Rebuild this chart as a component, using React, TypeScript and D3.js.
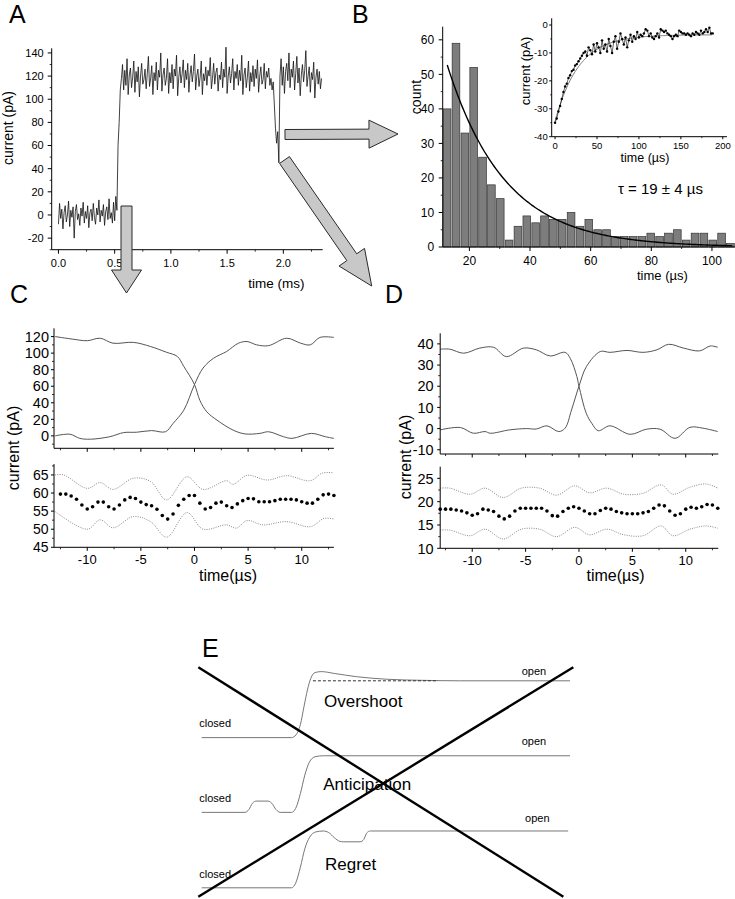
import React from "react";
import * as d3 from "d3";

const FONT = "Arial, 'Liberation Sans', Helvetica, sans-serif";

// ---------------- Panel A : single-channel current trace ----------------
const A_DT = 0.01; // ms per sample
const A_BASE = [-8, 10, -3, 5, -12, 2, 8, -6, 0, 12, -10, 4, -2, 7, -20, 3, 9, -4, 1, -9, 6, -1, 11, -7, 3, -3, 8, -11, 2, 5, -5, 10, -2, -8, 6, 0, 13, -6, 4, -1, 9, -9, 3, 7, -4, 14, -3, 2, -7, 11, -5, 16, 4];
const A_RISE = [60, 80, 108];
const A_OPEN1 = [118, 130, 108, 125, 112, 135, 104, 121, 127, 110, 119, 133, 106, 124, 115, 128, 102, 120, 131, 113, 117, 126, 109, 122, 137, 111, 118, 129, 104, 123, 116, 132, 108, 125, 119, 140, 107, 121, 127, 112, 118, 135, 105, 123, 114, 130, 109, 126, 120, 138, 103, 119, 128, 114, 122, 134, 110, 125, 117, 131, 106, 121, 129, 115, 124, 139, 108, 120, 126, 111, 119, 133, 104, 122, 116, 128, 112, 125, 120, 136, 109, 118, 131, 113, 123, 127, 107, 121, 117, 132, 110, 126, 119, 145, 105, 120, 128, 114, 122, 135, 108, 124, 118, 130, 112, 125, 116, 138, 104, 121, 127, 110, 119, 133, 107, 123, 115, 129, 111, 126, 118, 134, 106, 120, 128, 113, 117, 131, 109, 124, 119, 127, 112, 118, 108, 115];
const A_FALL = [95, 75, 62, 72, 45];
const A_OPEN2 = [120, 135, 112, 128, 105, 124, 131, 116, 140, 110, 126, 119, 133, 108, 122, 137, 114, 127, 103, 121, 130, 115, 125, 142, 111, 120, 128, 106, 123, 117, 132, 101, 119, 126, 113, 124, 109, 118];
const A_CURRENT = [...A_BASE, ...A_RISE, ...A_OPEN1, ...A_FALL, ...A_OPEN2];
const A_Y_TICKS = [-20, 0, 20, 40, 60, 80, 100, 120, 140];
const A_Y_MINOR = [-30, -10, 10, 30, 50, 70, 90, 110, 130];
const A_X_TICKS = [0, 0.5, 1, 1.5, 2];
const A_X_MINOR = [0.25, 0.75, 1.25, 1.75, 2.25];

// ---------------- Panel B : dwell-time histogram ----------------
const B_COUNTS = [40, 59, 33, 52, 26, 18, 14, 2, 6, 9, 7, 9, 8, 8, 10, 6, 8, 5, 5, 3, 3, 3, 3, 4, 3, 4, 5, 2, 4, 4, 2, 4, 1];
const B_BIN_START = 11.2;
const B_BIN_WIDTH = 2.92;
const B_FIT_AMP = 52.7;
const B_FIT_TAU = 19;
const B_FIT_T0 = 12.7;
const B_FIT_T1 = 107;
const B_Y_TICKS = [0, 10, 20, 30, 40, 50, 60];
const B_Y_MINOR = [5, 15, 25, 35, 45, 55];
const B_X_TICKS = [20, 40, 60, 80, 100];
const B_X_MINOR = [30, 50, 70, 90];

// inset: averaged relaxation
const B_INSET_DT = 2; // µs
const B_INSET_CURRENT = [-35, -33.5, -31, -29, -26.5, -24, -22, -21, -19, -18, -16.5, -16, -14.5, -14, -13, -12, -11, -10, -9.5, -11, -8, -9, -10.5, -7, -9.5, -6.5, -8, -10, -5.5, -8.5, -7, -9.5, -5, -7.5, -10, -6, -4, -8.5, -6, -3, -5, -7, -4.5, -8, -5.5, -3.5, -6, -4, -5, -2.5, -4.5, -3.5, -4, -3, -1.5, -2, -4, -3, -4.5, -5, -4, -3, -4.5, -1.5, -2, -2.5, -2, -3, -3.5, -4, -5, -4, -3.5, -4, -2, -2.5, -3, -3, -3.5, -3, -3.5, -4, -3, -3.5, -2.5, -3, -3.5, -2, -3, -2.5, -1.5, -2.5, -1, -3, -3];
const B_INSET_FIT_OFFSET = -3.5;
const B_INSET_FIT_AMP = -31;
const B_INSET_FIT_TAU = 28;
const B_INSET_FIT_END = 188;
const BI_Y_TICKS = [-40, -30, -20, -10, 0];
const BI_Y_MINOR = [-35, -25, -15, -5];
const BI_X_TICKS = [0, 50, 100, 150, 200];
const BI_X_MINOR = [25, 75, 125, 175];

// ---------------- Panel C ----------------
const C_CLOSING: [number, number][] = [[-13, 120], [-11.4, 117], [-10, 115], [-8.8, 118], [-7.6, 112], [-5.7, 113], [-4.1, 108], [-2.6, 101], [-1.6, 96], [-1, 84], [0, 62], [0.5, 43], [1.15, 29], [2.1, 19], [3.6, 7], [4.7, 2.4], [6.1, 3], [6.9, 5], [8.3, -1], [9.1, -3], [10.9, 3], [12.2, -1], [13, -3]];
const C_OPENING: [number, number][] = [[-13, 0], [-11.6, 2], [-10.7, -3], [-9.7, -4], [-7.9, -1], [-6.6, 4], [-5.4, 4.4], [-4, 6.4], [-2.7, 5], [-2, 15], [-1, 31], [0, 62], [0.8, 82], [1.8, 94], [3, 102], [4.1, 112], [4.9, 114], [5.8, 110], [6.9, 109], [8.6, 118], [9.9, 112], [10.8, 110], [11.7, 119], [13, 119]];
const C_MEAN_T0 = -12.5;
const C_MEAN_DT = 0.5;
const C_MEAN = [59.7, 59.7, 59.2, 58.3, 56.7, 55.6, 56.2, 57.5, 57.5, 56.2, 55.6, 56.7, 58.1, 58.8, 58.5, 57.5, 56.8, 56.5, 55.5, 53.8, 52.8, 54.2, 56.6, 58.3, 59.3, 59.3, 57.2, 55.6, 56, 57.2, 57.5, 56.5, 56, 57, 57.9, 58.5, 58.4, 57.6, 57.6, 57.6, 57.9, 58.3, 58.3, 58.3, 58.1, 57.6, 57.2, 57.2, 58.3, 59.5, 59.7, 59.3];
const C_UPPER: [number, number][] = [[-13, 65], [-12.2, 65], [-10, 61.3], [-8.8, 62.9], [-7.6, 61], [-5.7, 64.1], [-4.1, 63.2], [-2.6, 58.1], [-0.7, 64.5], [0.8, 61], [3, 63.4], [3.6, 62.4], [4.9, 64.9], [6.8, 63.6], [8.6, 64.8], [10.8, 63.4], [11.9, 65.5], [13, 65.6]];
const C_LOWER: [number, number][] = [[-13, 54.9], [-10, 50], [-8.8, 52.6], [-7.6, 50.4], [-5.7, 53.5], [-4.1, 52.1], [-2.6, 47.8], [-0.7, 54.6], [0.8, 50], [3, 51.2], [3.9, 50.3], [4.9, 52.4], [6.4, 51.2], [8.6, 52.1], [10.8, 50.7], [12.1, 53], [13, 52.8]];
const C_TOP_Y_TICKS = [0, 20, 40, 60, 80, 100, 120];
const C_TOP_Y_MINOR = [-10, 10, 30, 50, 70, 90, 110];
const C_BOT_Y_TICKS = [45, 50, 55, 60, 65];
const C_BOT_Y_MINOR = [47.5, 52.5, 57.5, 62.5, 67.5];

// ---------------- Panel D ----------------
const D_CLOSING: [number, number][] = [[-13, 37.5], [-12.1, 37.5], [-10.8, 35.6], [-9.3, 38], [-8, 38.4], [-6.8, 34], [-5.2, 38], [-4, 37.2], [-2.7, 34.3], [-1.3, 36], [-0.8, 33], [-0.2, 24.6], [0, 20], [0.7, 7], [1.2, 2.5], [1.8, -1], [2.9, 1.3], [4.8, -2.7], [6.3, -0.3], [7.6, -0.3], [9, -4.6], [10.4, 0.6], [11.6, 0.2], [13, -1.4]];
const D_OPENING: [number, number][] = [[-13, -0.6], [-11.1, 0.5], [-9.9, -2.2], [-8.8, -1.4], [-8.3, -2.2], [-6.5, -0.6], [-4.9, 0], [-4, -0.2], [-3, 1.3], [-1.9, -1.4], [-1.3, 0.2], [-0.7, 8.8], [0, 20], [0.7, 29.3], [2, 36.4], [2.9, 36], [4.5, 36.9], [6, 36], [7.3, 37.2], [8.4, 39.8], [9.8, 38], [11.3, 36.7], [12.3, 39], [13, 38.4]];
const D_MEAN_T0 = -13;
const D_MEAN_DT = 0.5;
const D_MEAN = [18.4, 18.4, 18.4, 18.2, 18, 17.6, 17.1, 17.4, 18.4, 18.2, 17.9, 16.9, 16.3, 16.9, 18, 18.6, 18.6, 18.6, 18.6, 18.6, 18, 17, 16.9, 17.9, 18.6, 18.9, 18.6, 18, 17.4, 17.4, 18.1, 18.6, 18.4, 17.9, 17.6, 17.4, 17.4, 17.4, 17.6, 17.9, 18.6, 19.3, 19.1, 18, 17.1, 17.4, 18.4, 18.8, 18.6, 18.9, 19.4, 19.3, 18.6];
const D_UPPER: [number, number][] = [[-13, 22.9], [-12.1, 22.9], [-10.2, 21.6], [-8.8, 22.9], [-7.1, 20.9], [-5.4, 22.9], [-3.7, 22.9], [-2.1, 21.4], [-0.4, 23.4], [1, 21.9], [2.6, 22.9], [4.2, 21.6], [6, 21.8], [7.7, 23.6], [8.8, 21.6], [10.4, 23.1], [11.9, 23.8], [13, 22.9]];
const D_LOWER: [number, number][] = [[-13, 13.9], [-12.1, 13.9], [-10.2, 12.7], [-8.8, 14.1], [-7.1, 12], [-5.4, 14.1], [-3.7, 14.1], [-2.1, 12.5], [-0.4, 14.5], [1, 12.9], [2.6, 14.1], [4.2, 12.9], [6, 12.7], [7.7, 14.8], [8.8, 12.7], [10.4, 14.1], [11.9, 14.8], [13, 14.3]];
const D_TOP_Y_TICKS = [-10, 0, 10, 20, 30, 40];
const D_TOP_Y_MINOR = [-5, 5, 15, 25, 35];
const D_BOT_Y_TICKS = [10, 15, 20, 25];
const D_BOT_Y_MINOR = [12.5, 17.5, 22.5];

const CD_X_TICKS = [-10, -5, 0, 5, 10];
const CD_X_MINOR = [-12.5, -7.5, -2.5, 2.5, 7.5, 12.5];

// ---------------- Panel E : schematic ----------------
const E_OVERSHOOT: [number, number][] = [[0, 69.3], [24.4, 69.3], [25.6, 70.5], [26.8, 75], [27.8, 83], [28.7, 90], [29.6, 95], [30.8, 97.6], [32.5, 98], [36, 97.2], [42, 95.8], [50, 94.7], [60, 94.2], [70, 94], [100, 94]];
const E_OVERSHOOT_DASH: [number, number][] = [[30.2, 94], [64.2, 94]];
const E_ANTICIPATION: [number, number][] = [[0, 36.8], [11.8, 36.8], [12.8, 38], [13.8, 40.8], [14.8, 41.7], [18, 41.7], [19, 40.8], [20.2, 38], [21.3, 36.8], [24.4, 36.8], [25.5, 38.5], [26.8, 45], [28, 53], [29.2, 58.5], [30.8, 61], [33, 61.4], [100, 61.4]];
const E_REGRET: [number, number][] = [[0, 4], [24.4, 4], [25.5, 6], [26.8, 13], [28, 21], [29.3, 26], [31, 28.3], [33, 28.7], [34.5, 28], [36, 25.8], [37.5, 24.2], [38.5, 24], [43, 24], [44, 25], [44.8, 27.8], [45.8, 28.7], [99.5, 28.7]];
const E_CROSS_1: [number, number][] = [[-0.92, 99.9], [98.2, 0.13]];
const E_CROSS_2: [number, number][] = [[-0.92, 0.13], [100.9, 99.9]];

// ---------------- helpers ----------------
type Scale = d3.ScaleLinear<number, number>;

function AxisLeft(props: { scale: Scale; x: number; ticks: number[]; minor: number[]; size: number; fmt?: (v: number) => string; len?: number; mlen?: number; gap?: number }) {
  const { scale, x, ticks, minor, size } = props;
  const fmt = props.fmt || ((v: number) => String(v));
  const len = props.len ?? 4, mlen = props.mlen ?? 2, gap = props.gap ?? 3;
  const [r0, r1] = scale.range();
  return (
    <g>
      <line x1={x} x2={x} y1={r0} y2={r1} stroke="#000" strokeWidth={1} />
      {minor.map((v) => (
        <line key={"m" + v} x1={x - mlen} x2={x} y1={scale(v)} y2={scale(v)} stroke="#000" strokeWidth={0.8} />
      ))}
      {ticks.map((v) => (
        <g key={"t" + v}>
          <line x1={x - len} x2={x} y1={scale(v)} y2={scale(v)} stroke="#000" strokeWidth={1} />
          <text x={x - len - gap} y={scale(v)} dy="0.36em" textAnchor="end" fontSize={size}>
            {fmt(v)}
          </text>
        </g>
      ))}
    </g>
  );
}

function AxisBottom(props: { scale: Scale; y: number; ticks: number[]; minor: number[]; size: number; labels?: boolean; fmt?: (v: number) => string; len?: number; mlen?: number; dy?: number }) {
  const { scale, y, ticks, minor, size } = props;
  const fmt = props.fmt || ((v: number) => String(v));
  const len = props.len ?? 4, mlen = props.mlen ?? 2, dy = props.dy ?? 16;
  const labels = props.labels ?? true;
  const [r0, r1] = scale.range();
  return (
    <g>
      <line x1={r0} x2={r1} y1={y} y2={y} stroke="#000" strokeWidth={1} />
      {minor.map((v) => (
        <line key={"m" + v} x1={scale(v)} x2={scale(v)} y1={y} y2={y + mlen} stroke="#000" strokeWidth={0.8} />
      ))}
      {ticks.map((v) => (
        <g key={"t" + v}>
          <line x1={scale(v)} x2={scale(v)} y1={y} y2={y + len} stroke="#000" strokeWidth={1} />
          {labels && (
            <text x={scale(v)} y={y + dy} textAnchor="middle" fontSize={size}>
              {fmt(v)}
            </text>
          )}
        </g>
      ))}
    </g>
  );
}

function Arrow(props: { x0: number; y0: number; x1: number; y1: number; shaft: number; head: number; headLen: number }) {
  const { x0, y0, x1, y1, shaft, head, headLen } = props;
  const dx = x1 - x0, dy = y1 - y0;
  const L = Math.hypot(dx, dy);
  const ux = dx / L, uy = dy / L;
  const px = -uy, py = ux;
  const bx = x1 - ux * headLen, by = y1 - uy * headLen;
  const s = shaft / 2, h = head / 2;
  const pts = [
    [x0 + px * s, y0 + py * s],
    [bx + px * s, by + py * s],
    [bx + px * h, by + py * h],
    [x1, y1],
    [bx - px * h, by - py * h],
    [bx - px * s, by - py * s],
    [x0 - px * s, y0 - py * s],
  ];
  return <polygon points={pts.map((p) => p.join(",")).join(" ")} fill="#c8c8c8" stroke="#2a2a2a" strokeWidth={1} />;
}

function PanelLabel({ x, y, t }: { x: number; y: number; t: string }) {
  return (
    <text x={x} y={y} fontSize={25}>
      {t}
    </text>
  );
}

// ---------------- App ----------------
export default function App() {
  // Panel A
  const xA = d3.scaleLinear().domain([-0.06, 2.35]).range([51.7, 322.7]);
  const yA = d3.scaleLinear().domain([-30, 144]).range([249.7, 48.3]);
  const lineA = d3
    .line<number>()
    .x((_, i) => xA(i * A_DT))
    .y((v) => yA(v));

  // Panel B
  const xB = d3.scaleLinear().domain([B_BIN_START, 107.6]).range([442.7, 735]);
  const yB = d3.scaleLinear().domain([0, 63.8]).range([247, 26.7]);
  const fitB = d3.range(B_FIT_T0, B_FIT_T1, 0.5).map((t) => [t, B_FIT_AMP * Math.exp(-(t - B_FIT_T0) / B_FIT_TAU)] as [number, number]);
  const lineB = d3
    .line<[number, number]>()
    .x((d) => xB(d[0]))
    .y((d) => yB(d[1]));

  const xI = d3.scaleLinear().domain([-4, 205]).range([551.7, 727]);
  const yI = d3.scaleLinear().domain([-40, 2.4]).range([136.7, 18.3]);
  const insetPts = B_INSET_CURRENT.map((v, i) => [i * B_INSET_DT, v] as [number, number]);
  const lineI = d3
    .line<[number, number]>()
    .x((d) => xI(d[0]))
    .y((d) => yI(d[1]));
  const fitI = d3.range(0, B_INSET_FIT_END, 1).map((t) => [t, B_INSET_FIT_OFFSET + B_INSET_FIT_AMP * Math.exp(-t / B_INSET_FIT_TAU)] as [number, number]);

  // Panel C
  const xC = d3.scaleLinear().domain([-13.1, 13.0]).range([54, 333.9]);
  const yCt = d3.scaleLinear().domain([-15, 130]).range([448.3, 328.3]);
  const yCb = d3.scaleLinear().domain([45, 68]).range([547.3, 464.1]);
  const lineCt = d3
    .line<[number, number]>()
    .x((d) => xC(d[0]))
    .y((d) => yCt(d[1]))
    .curve(d3.curveCatmullRom.alpha(0.5));
  const lineCb = d3
    .line<[number, number]>()
    .x((d) => xC(d[0]))
    .y((d) => yCb(d[1]))
    .curve(d3.curveCatmullRom.alpha(0.5));

  // Panel D
  const xD = d3.scaleLinear().domain([-13, 13.05]).range([440.2, 718.3]);
  const yDt = d3.scaleLinear().domain([-12, 45]).range([454, 333.3]);
  const yDb = d3.scaleLinear().domain([10, 27.5]).range([548.3, 466.7]);
  const lineDt = d3
    .line<[number, number]>()
    .x((d) => xD(d[0]))
    .y((d) => yDt(d[1]))
    .curve(d3.curveCatmullRom.alpha(0.5));
  const lineDb = d3
    .line<[number, number]>()
    .x((d) => xD(d[0]))
    .y((d) => yDb(d[1]))
    .curve(d3.curveCatmullRom.alpha(0.5));

  // Panel E
  const xE = d3.scaleLinear().domain([0, 100]).range([201.7, 570]);
  const yE = d3.scaleLinear().domain([0, 100]).range([897, 667]);
  const lineE = d3
    .line<[number, number]>()
    .x((d) => xE(d[0]))
    .y((d) => yE(d[1]))
    .curve(d3.curveMonotoneX);
  const lineEs = d3
    .line<[number, number]>()
    .x((d) => xE(d[0]))
    .y((d) => yE(d[1]));

  const traceStroke = "#555";
  const dotted = "#8a8a8a";

  return (
    <svg width={735} height={899} style={{ position: "absolute", left: 0, top: 0, background: "#fff" }} fontFamily={FONT}>
      <rect x={0} y={0} width={735} height={899} fill="#fff" />

      {/* ---------- A ---------- */}
      <PanelLabel x={9} y={22.7} t="A" />
      <path d={lineA(A_CURRENT) || ""} fill="none" stroke="#111" strokeWidth={0.8} />
      <AxisLeft scale={yA} x={51.7} ticks={A_Y_TICKS} minor={A_Y_MINOR} size={11} len={4} gap={4} />
      <AxisBottom scale={xA} y={249.7} ticks={A_X_TICKS} minor={A_X_MINOR} size={11} dy={17} fmt={(v) => v.toFixed(1)} />
      <text transform="translate(13,128) rotate(-90)" textAnchor="middle" fontSize={14}>
        current (pA)
      </text>
      <text x={248.3} y={288.3} fontSize={13.5}>
        time (ms)
      </text>

      {/* ---------- B ---------- */}
      <PanelLabel x={352} y={22.7} t="B" />
      {B_COUNTS.map((c, i) => {
        const x0 = xB(B_BIN_START + i * B_BIN_WIDTH);
        const x1 = xB(B_BIN_START + (i + 1) * B_BIN_WIDTH);
        return <rect key={i} x={x0 + 0.6} y={yB(c)} width={x1 - x0 - 1.2} height={yB(0) - yB(c)} fill="#7d7d7d" stroke="#333" strokeWidth={0.7} />;
      })}
      <path d={lineB(fitB) || ""} fill="none" stroke="#000" strokeWidth={1.4} />
      <AxisLeft scale={yB} x={442.7} ticks={B_Y_TICKS} minor={B_Y_MINOR} size={12} len={4} gap={4.5} />
      <AxisBottom scale={xB} y={247} ticks={B_X_TICKS} minor={B_X_MINOR} size={12} dy={18} />
      <text transform="translate(421,97) rotate(-90)" textAnchor="middle" fontSize={14}>
        count
      </text>
      <text x={637} y={280} fontSize={13}>
        time (µs)
      </text>
      <text x={618} y={194} fontSize={15}>
        τ = 19 ± 4 µs
      </text>

      {/* inset */}
      <path d={lineI(fitI) || ""} fill="none" stroke="#777" strokeWidth={1} />
      <path d={lineI(insetPts) || ""} fill="none" stroke="#000" strokeWidth={0.6} />
      {insetPts.map((d, i) => (
        <circle key={i} cx={xI(d[0])} cy={yI(d[1])} r={1.2} fill="#000" />
      ))}
      <AxisLeft scale={yI} x={551.7} ticks={BI_Y_TICKS} minor={BI_Y_MINOR} size={9.5} len={2.5} mlen={1.5} gap={1.5} />
      <AxisBottom scale={xI} y={136.7} ticks={BI_X_TICKS} minor={BI_X_MINOR} size={9.5} len={2.5} mlen={1.5} dy={12.3} />
      <text transform="translate(530,71) rotate(-90)" textAnchor="middle" fontSize={13}>
        current (pA)
      </text>
      <text x={645} y={162} textAnchor="middle" fontSize={12.5}>
        time (µs)
      </text>

      {/* arrows */}
      <Arrow x0={126.5} y0={206} x1={126.5} y1={293} shaft={11} head={30} headLen={23} />
      <Arrow x0={285} y0={134.5} x1={398} y1={134} shaft={10} head={28} headLen={29} />
      <Arrow x0={284.5} y0={160} x1={371.7} y1={286} shaft={12} head={31} headLen={35} />

      {/* ---------- C ---------- */}
      <PanelLabel x={10} y={303} t="C" />
      <path d={lineCt(C_CLOSING) || ""} fill="none" stroke={traceStroke} strokeWidth={1} />
      <path d={lineCt(C_OPENING) || ""} fill="none" stroke={traceStroke} strokeWidth={1} />
      <AxisLeft scale={yCt} x={54} ticks={C_TOP_Y_TICKS} minor={C_TOP_Y_MINOR} size={14.5} len={3} gap={2} />
      <AxisBottom scale={xC} y={448.3} ticks={CD_X_TICKS} minor={CD_X_MINOR} size={13} labels={false} len={3.5} />
      <path d={lineCb(C_UPPER) || ""} fill="none" stroke={dotted} strokeWidth={1} strokeDasharray="1 1.3" />
      <path d={lineCb(C_LOWER) || ""} fill="none" stroke={dotted} strokeWidth={1} strokeDasharray="1 1.3" />
      {C_MEAN.map((v, i) => (
        <circle key={i} cx={xC(C_MEAN_T0 + i * C_MEAN_DT)} cy={yCb(v)} r={1.8} fill="#000" />
      ))}
      <AxisLeft scale={yCb} x={54} ticks={C_BOT_Y_TICKS} minor={C_BOT_Y_MINOR} size={14} len={3} gap={2.5} />
      <AxisBottom scale={xC} y={547.3} ticks={CD_X_TICKS} minor={CD_X_MINOR} size={13} len={3.5} dy={16.5} />
      <text transform="translate(19,448) rotate(-90)" textAnchor="middle" fontSize={16}>
        current (pA)
      </text>
      <text x={228} y={580.5} textAnchor="middle" fontSize={16}>
        time(µs)
      </text>

      {/* ---------- D ---------- */}
      <PanelLabel x={385} y={303.3} t="D" />
      <path d={lineDt(D_CLOSING) || ""} fill="none" stroke={traceStroke} strokeWidth={1} />
      <path d={lineDt(D_OPENING) || ""} fill="none" stroke={traceStroke} strokeWidth={1} />
      <AxisLeft scale={yDt} x={440.2} ticks={D_TOP_Y_TICKS} minor={D_TOP_Y_MINOR} size={14.5} len={3} gap={3.5} />
      <AxisBottom scale={xD} y={454} ticks={CD_X_TICKS} minor={CD_X_MINOR} size={13} labels={false} len={3.5} />
      <path d={lineDb(D_UPPER) || ""} fill="none" stroke={dotted} strokeWidth={1} strokeDasharray="1 1.3" />
      <path d={lineDb(D_LOWER) || ""} fill="none" stroke={dotted} strokeWidth={1} strokeDasharray="1 1.3" />
      {D_MEAN.map((v, i) => (
        <circle key={i} cx={xD(D_MEAN_T0 + i * D_MEAN_DT)} cy={yDb(v)} r={1.8} fill="#000" />
      ))}
      <AxisLeft scale={yDb} x={440.2} ticks={D_BOT_Y_TICKS} minor={D_BOT_Y_MINOR} size={14.5} len={3} gap={3.5} />
      <AxisBottom scale={xD} y={548.3} ticks={CD_X_TICKS} minor={CD_X_MINOR} size={13} len={3.5} dy={16.5} />
      <text transform="translate(411,457) rotate(-90)" textAnchor="middle" fontSize={16}>
        current (pA)
      </text>
      <text x={615.5} y={580.5} textAnchor="middle" fontSize={16}>
        time(µs)
      </text>

      {/* ---------- E ---------- */}
      <PanelLabel x={202} y={657} t="E" />
      <path d={lineE(E_OVERSHOOT) || ""} fill="none" stroke="#777" strokeWidth={1} />
      <path d={lineEs(E_OVERSHOOT_DASH) || ""} fill="none" stroke="#333" strokeWidth={1} strokeDasharray="3 2" />
      <path d={lineE(E_ANTICIPATION) || ""} fill="none" stroke="#777" strokeWidth={1} />
      <path d={lineE(E_REGRET) || ""} fill="none" stroke="#777" strokeWidth={1} />
      <text x={xE(-0.65)} y={yE(74.1)} fontSize={11}>closed</text>
      <text x={xE(-0.65)} y={yE(41.4)} fontSize={11}>closed</text>
      <text x={xE(-0.65)} y={yE(8.1)} fontSize={11}>closed</text>
      <text x={xE(86.9)} y={yE(96.5)} fontSize={11}>open</text>
      <text x={xE(86.9)} y={yE(66.1)} fontSize={11}>open</text>
      <text x={xE(87.8)} y={yE(32.6)} fontSize={11}>open</text>
      <text x={xE(33.2)} y={yE(82.6)} fontSize={17}>Overshoot</text>
      <text x={xE(33)} y={yE(46.5)} fontSize={17}>Anticipation</text>
      <text x={xE(33.5)} y={yE(11.7)} fontSize={17}>Regret</text>
      <path d={lineEs(E_CROSS_1) || ""} fill="none" stroke="#000" strokeWidth={2.4} />
      <path d={lineEs(E_CROSS_2) || ""} fill="none" stroke="#000" strokeWidth={2.4} />
    </svg>
  );
}
